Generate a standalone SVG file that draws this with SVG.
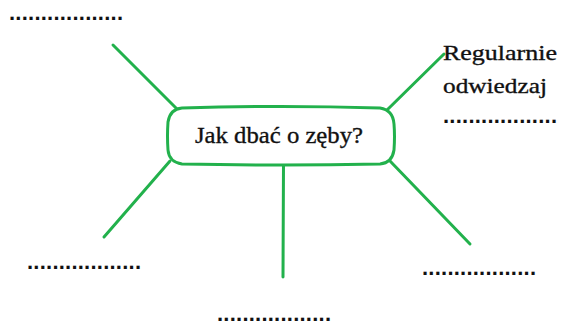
<svg xmlns="http://www.w3.org/2000/svg" width="561" height="326" viewBox="0 0 561 326">
<style>
.ln{stroke:#22B14C;stroke-width:3;stroke-linecap:round;fill:none}
.box{stroke:#22B14C;stroke-width:3;fill:#ffffff}
.t{font-family:"Liberation Serif","DejaVu Serif",serif;fill:#111111;stroke:#111111;stroke-width:0.35}
.dots{font-family:"Liberation Sans",Arial,sans-serif;font-size:22px;font-weight:bold;fill:#111111}
</style>
<rect width="561" height="326" fill="#ffffff"/>
<g id="connectors">
<line class="ln" x1="113" y1="45" x2="179" y2="111"/>
<line class="ln" x1="444" y1="54" x2="386" y2="111"/>
<line class="ln" x1="104" y1="237" x2="170" y2="161"/>
<line class="ln" x1="283.5" y1="164" x2="283" y2="277"/>
<line class="ln" x1="390" y1="161" x2="470" y2="244"/>
</g>
<g id="center">
<path class="box" d="M182,108 Q280,105 380,108 Q393,110 394,124 Q395,136 394,150 Q392,163 380,164 Q280,166 182,164 Q169,162 168,150 Q167,136 168,122 Q170,109 182,108 Z"/>
<text class="t" x="279" y="143" font-size="24" text-anchor="middle" textLength="168" lengthAdjust="spacingAndGlyphs">Jak dbać o zęby?</text>
</g>
<g id="node-top-left">
<text class="dots" x="9" y="20" textLength="114" lengthAdjust="spacing">..................</text>
</g>
<g id="node-top-right">
<text class="t" x="443" y="60" font-size="22" textLength="114" lengthAdjust="spacingAndGlyphs">Regularnie</text>
<text class="t" x="443" y="93" font-size="22" textLength="104" lengthAdjust="spacingAndGlyphs">odwiedzaj</text>
<text class="dots" x="443" y="123" textLength="114" lengthAdjust="spacing">..................</text>
</g>
<g id="node-bottom-left">
<text class="dots" x="27" y="269" textLength="114" lengthAdjust="spacing">..................</text>
</g>
<g id="node-bottom-center">
<text class="dots" x="217" y="321" textLength="114" lengthAdjust="spacing">..................</text>
</g>
<g id="node-bottom-right">
<text class="dots" x="422" y="275" textLength="114" lengthAdjust="spacing">..................</text>
</g>
</svg>
